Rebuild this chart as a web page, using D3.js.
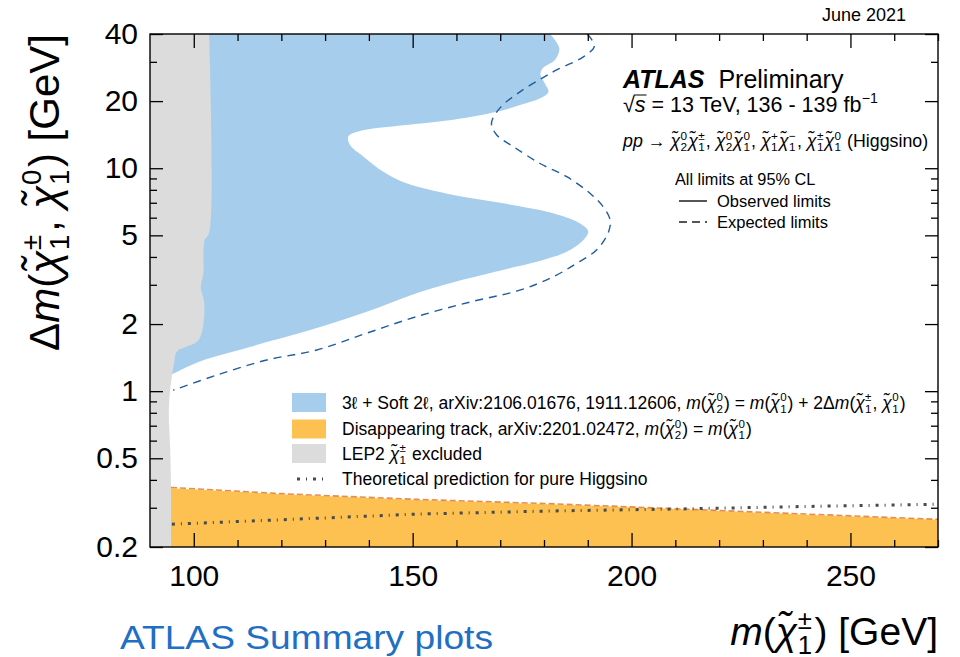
<!DOCTYPE html>
<html>
<head>
<meta charset="utf-8">
<script src="https://cdn.jsdelivr.net/npm/d3@7/dist/d3.min.js"></script>
<style>
  html, body { margin: 0; padding: 0; background: #fff; }
  svg { display: block; }
  text { font-family: "Liberation Sans", Arial, "DejaVu Sans", sans-serif; white-space: pre; }
</style>
</head>
<body>
<svg id="chart" width="960" height="657"></svg>
<script>
// ---- Axis ticks ----
const massMajorTicks = [100, 150, 200, 250];
const massMinorTicks = [110, 120, 130, 140, 160, 170, 180, 190, 210, 220, 230, 240, 260, 270];
const dmMajorTicks = [0.2, 0.5, 1, 2, 5, 10, 20, 40];
const dmTickLabels = ["0.2", "0.5", "1", "2", "5", "10", "20", "40"];
const dmMinorTicks = [0.3, 0.4, 0.6, 0.7, 0.8, 0.9, 3, 4, 6, 7, 8, 9, 30];

// ---- LEP2 chargino exclusion edge (top to bottom) ----
const lepMass = [103.5, 103.5, 102.5, 102.2, 102.2, 101.6, 102.4, 101.8, 100.7, 98.2, 96.5, 95.9, 95.5, 94.6, 94.3, 94.6, 94.8, 94.8];
const lepDm   = [40, 5.12, 4.77, 4.17, 3.39, 2.93, 2.49, 1.82, 1.66, 1.58, 1.53, 1.48, 1.34, 1.01, 0.80, 0.56, 0.37, 0.2];

// ---- 3l + soft 2l observed exclusion contour (top to bottom) ----
const obsMass = [181.4, 183.5, 182.5, 179.7, 179.2, 180.2, 181.0, 179.1, 174.5, 169.2, 159.3, 147.9, 138.7, 135.3, 135.7, 138.7, 143.3, 148.6, 159.3, 170.7, 182.1, 188.2, 190.1, 189.0, 185.2, 179.8, 173.8, 158.5, 150.9, 139.5, 128.1, 112.8, 101.4, 95.0];
const obsDm   = [40, 34.5, 30.6, 28.1, 26.2, 24.0, 22.0, 20.6, 19.2, 17.9, 16.5, 15.6, 14.8, 13.9, 12.7, 11.3, 9.65, 8.56, 7.59, 6.96, 6.28, 5.66, 5.20, 4.77, 4.22, 3.88, 3.62, 3.05, 2.75, 2.27, 1.92, 1.58, 1.36, 1.19];

// ---- 3l + soft 2l expected exclusion contour ----
const expMass = [189.9, 191.5, 189.0, 182.9, 179.5, 174.5, 169.9, 168.0, 169.2, 173.0, 179.1, 185.2, 190.5, 193.5, 195.1, 194.7, 192.0, 187.5, 182.1, 174.5, 163.1, 150.9, 139.5, 128.1, 116.7, 105.2, 95.3];
const expDm   = [40, 35.3, 31.6, 27.6, 25.3, 22.0, 18.6, 15.9, 14.1, 12.5, 10.5, 9.16, 7.72, 6.72, 5.86, 5.15, 4.30, 3.75, 3.26, 2.84, 2.51, 2.16, 1.82, 1.53, 1.38, 1.18, 1.01];

// ---- Disappearing track exclusion (upper edge) ----
const dtMass  = [94.8, 120, 151, 181, 210, 240, 270];
const dtObsDm = [0.367, 0.345, 0.325, 0.311, 0.296, 0.279, 0.265];
const dtExpDm = [0.370, 0.347, 0.327, 0.313, 0.297, 0.281, 0.266];

// ---- Pure Higgsino mass splitting prediction ----
const thMass = [95, 120, 151, 181, 210, 240, 270];
const thDm   = [0.253, 0.265, 0.281, 0.290, 0.296, 0.304, 0.311];

const plot = { left: 150, right: 938, top: 34, bottom: 547 };
const colors = {
  blue: "#a6ceec", blueLine: "#1f5c9e",
  orange: "#fdc152", orangeLine: "#e27a2c",
  gray: "#dcdcdc", theory: "#4a4a4a"
};

const svg = d3.select("#chart");
const x = d3.scaleLinear().domain([90, 270]).range([plot.left, plot.right]);
const y = d3.scaleLog().domain([0.2, 40]).range([plot.bottom, plot.top]);

const zip = (xs, ys) => xs.map((v, i) => [v, ys[i]]);
const line = d3.line().x(d => x(d[0])).y(d => y(d[1]));
const smooth = d3.line().x(d => x(d[0])).y(d => y(d[1])).curve(d3.curveCatmullRom.alpha(0.5));

svg.append("defs").append("clipPath").attr("id", "plotclip")
  .append("rect").attr("x", plot.left).attr("y", plot.top)
  .attr("width", plot.right - plot.left).attr("height", plot.bottom - plot.top);

const area = svg.append("g").attr("clip-path", "url(#plotclip)");

// blue observed region: contour then back along the left edge
const obsPts = zip(obsMass, obsDm);
const last = obsPts[obsPts.length - 1];
area.append("path")
  .attr("d", smooth(obsPts) + "L" + x(90) + "," + y(last[1]) + "L" + x(90) + "," + y(40) + "Z")
  .attr("fill", colors.blue);

// blue expected
area.append("path").attr("d", smooth(zip(expMass, expDm)))
  .attr("fill", "none").attr("stroke", colors.blueLine)
  .attr("stroke-width", 1.4).attr("stroke-dasharray", "8,6");

// disappearing track region
const dtPts = zip(dtMass, dtObsDm);
area.append("path")
  .attr("d", line(dtPts) + "L" + x(270) + "," + y(0.2) + "L" + x(dtMass[0]) + "," + y(0.2) + "Z")
  .attr("fill", colors.orange);
area.append("path").attr("d", line(zip(dtMass, dtExpDm)))
  .attr("fill", "none").attr("stroke", colors.orangeLine)
  .attr("stroke-width", 1.6).attr("stroke-dasharray", "6,3").attr("opacity", 0.85);

// LEP2 region
const lepPts = zip(lepMass, lepDm);
area.append("path")
  .attr("d", "M" + x(90) + "," + y(0.2) + "L" + x(90) + "," + y(40) + "L" + smooth(lepPts).slice(1) + "Z")
  .attr("fill", colors.gray);

// theory prediction
area.append("path").attr("d", line(zip(thMass, thDm)))
  .attr("fill", "none").attr("stroke", colors.theory)
  .attr("stroke-width", 3).attr("stroke-dasharray", "3,6,1,6");

// ---- Axes / ticks on all four sides ----
function ticks(axis, pos, vals, size, fmt, pad) {
  const g = svg.append("g").attr("transform", pos)
    .call(axis.tickValues(vals).tickSize(size).tickPadding(pad || 0).tickFormat(fmt || (() => "")));
  g.select(".domain").remove();
  g.selectAll(".tick line").attr("stroke", "#000").attr("stroke-width", 1.3);
  return g;
}
const gxB = ticks(d3.axisBottom(x), `translate(0,${plot.bottom})`, massMajorTicks, -14, d => String(d), 18);
ticks(d3.axisBottom(x), `translate(0,${plot.bottom})`, massMinorTicks, -7);
ticks(d3.axisTop(x), `translate(0,${plot.top})`, massMajorTicks, -14);
ticks(d3.axisTop(x), `translate(0,${plot.top})`, massMinorTicks, -7);
const gyL = ticks(d3.axisLeft(y), `translate(${plot.left},0)`, dmMajorTicks, -13, (d, i) => dmTickLabels[i], 12);
ticks(d3.axisLeft(y), `translate(${plot.left},0)`, dmMinorTicks, -7);
ticks(d3.axisRight(y), `translate(${plot.right},0)`, dmMajorTicks, -13);
ticks(d3.axisRight(y), `translate(${plot.right},0)`, dmMinorTicks, -7);

[gxB, gyL].forEach(g => g.selectAll(".tick text")
  .attr("fill", "#000").attr("font-size", 30)
  .attr("font-family", "'Liberation Sans', Arial, sans-serif"));

svg.append("rect").attr("x", plot.left).attr("y", plot.top)
  .attr("width", plot.right - plot.left).attr("height", plot.bottom - plot.top)
  .attr("fill", "none").attr("stroke", "#000").attr("stroke-width", 1.4);

// ---- rich text with italic parts and stacked super/subscripts ----
const CHI = "\u03C7\u0303";
function rich(parent, segs, size, fill) {
  const t = parent.append("text").attr("font-size", size).attr("fill", fill || "#000");
  let cx = 0;
  const pos = [];
  segs.forEach(s => {
    if (typeof s === "string") s = { t: s };
    const start = cx;
    if (s.t !== undefined) {
      const sp = t.append("tspan").attr("x", cx).attr("y", 0).text(s.t);
      if (s.it) sp.attr("font-style", "italic");
      if (s.b) sp.attr("font-weight", "bold");
      cx += sp.node().getComputedTextLength();
    }
    if (s.sup !== undefined || s.sub !== undefined) {
      const ss = size * 0.66;
      let w = 0;
      if (s.sup !== undefined) {
        const a = t.append("tspan").attr("x", cx + size * 0.02).attr("y", -size * 0.42).attr("font-size", ss).text(s.sup);
        w = Math.max(w, a.node().getComputedTextLength());
      }
      if (s.sub !== undefined) {
        const b = t.append("tspan").attr("x", cx + size * 0.02).attr("y", size * 0.24).attr("font-size", ss).text(s.sub);
        w = Math.max(w, b.node().getComputedTextLength());
      }
      cx += w + size * 0.08;
    }
    pos.push([start, cx]);
  });
  return { width: cx, pos };
}
function placed(px, py, segs, size, anchor, fill) {
  const g = svg.append("g");
  const r = rich(g, segs, size, fill);
  const dx = anchor === "end" ? -r.width : anchor === "middle" ? -r.width / 2 : 0;
  g.attr("transform", `translate(${px + dx},${py})`);
  return { g, r };
}
const chi = (sup, sub) => ({ t: CHI, it: true, sup, sub });

// axis titles
placed(plot.right, 645, [{ t: "m", it: true }, "(", chi("\u00B1", "1"), ") [GeV]"], 39, "end");
{
  const g = svg.append("g");
  const r = rich(g, ["\u0394", { t: "m", it: true }, "(", chi("\u00B1", "1"), ", ", chi("0", "1"), ") [GeV]"], 42);
  g.attr("transform", `translate(59,${plot.top + r.width}) rotate(-90)`);
}

// header / footer texts
placed(906, 21, ["June 2021"], 18, "end");
svg.append("text").attr("x", 120).attr("y", 649)
  .attr("font-family", "'Open Sans', 'Noto Sans', sans-serif").attr("font-size", 34)
  .attr("fill", "#1f6fc4").attr("textLength", 373).attr("lengthAdjust", "spacingAndGlyphs")
  .text("ATLAS Summary plots");

// ATLAS label block
placed(623, 88, [{ t: "ATLAS", it: true, b: true }, "  Preliminary"], 25);
{
  const o = placed(623, 112, ["\u221A", { t: "s", it: true }, " = 13 TeV, 136 - 139 fb", { sup: "\u22121" }], 21.5);
  const sPos = o.r.pos[1];
  o.g.append("line").attr("x1", sPos[0] - 1).attr("x2", sPos[1] + 1)
    .attr("y1", -17).attr("y2", -17).attr("stroke", "#000").attr("stroke-width", 1);
}
placed(623, 147, [{ t: "pp", it: true }, " \u2192 ", chi("0", "2"), chi("\u00B1", "1"), ", ", chi("0", "2"), chi("0", "1"), ", ",
  chi("+", "1"), chi("\u2212", "1"), ", ", chi("\u00B1", "1"), chi("0", "1"), " (Higgsino)"], 17.8);
placed(675, 185, ["All limits at 95% CL"], 16.3);
svg.append("line").attr("x1", 679).attr("x2", 707).attr("y1", 201).attr("y2", 201)
  .attr("stroke", "#555").attr("stroke-width", 2);
placed(717, 207, ["Observed limits"], 16.5);
svg.append("line").attr("x1", 679).attr("x2", 707).attr("y1", 222).attr("y2", 222)
  .attr("stroke", "#555").attr("stroke-width", 2).attr("stroke-dasharray", "8,5");
placed(717, 228, ["Expected limits"], 16.5);

// ---- Legend ----
const legendRows = [402.5, 429, 453.5, 479];
const boxX = 292, boxW = 34, boxH = 19, textX = 342, lsize = 17.5;
[colors.blue, colors.orange, colors.gray].forEach((c, i) => {
  svg.append("rect").attr("x", boxX).attr("y", legendRows[i] - boxH / 2)
    .attr("width", boxW).attr("height", boxH).attr("fill", c);
});
svg.append("line").attr("x1", boxX + 5).attr("x2", boxX + boxW).attr("y1", legendRows[3]).attr("y2", legendRows[3])
  .attr("stroke", colors.theory).attr("stroke-width", 3).attr("stroke-dasharray", "3,6,1,6");

const m = { t: "m", it: true };
placed(textX, legendRows[0] + 6, ["3\u2113 + Soft 2\u2113, arXiv:2106.01676, 1911.12606, ", m, "(", chi("0", "2"), ") = ", m, "(", chi("0", "1"),
  ") + 2\u0394", m, "(", chi("\u00B1", "1"), ", ", chi("0", "1"), ")"], lsize);
placed(textX, legendRows[1] + 6, ["Disappearing track, arXiv:2201.02472, ", m, "(", chi("0", "2"), ") = ", m, "(", chi("0", "1"), ")"], lsize);
placed(textX, legendRows[2] + 6, ["LEP2 ", chi("\u00B1", "1"), " excluded"], lsize);
placed(textX, legendRows[3] + 6, ["Theoretical prediction for pure Higgsino"], lsize);
</script>
</body>
</html>
